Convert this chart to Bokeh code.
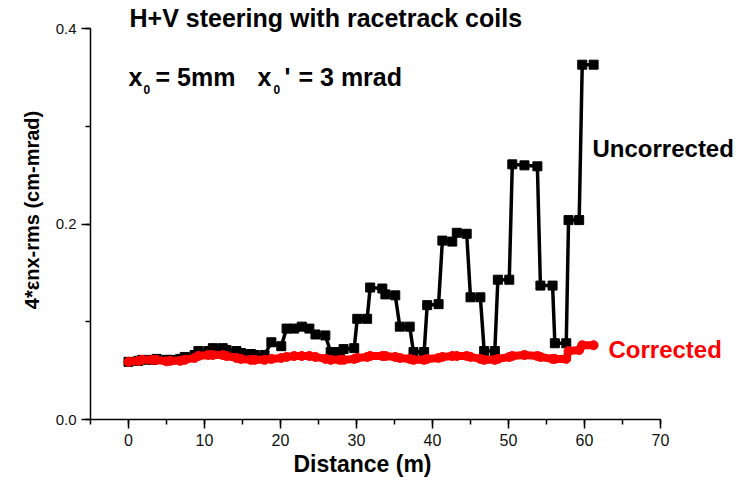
from bokeh.plotting import figure
from bokeh.models import Label, SingleIntervalTicker, PrintfTickFormatter, Range1d, Title
from bokeh.embed import file_html
from bokeh.resources import INLINE

# ---- data ----
distance = [0.0, 1.3, 1.8, 3.1, 3.7, 5.0, 5.5, 6.8, 7.4, 8.7,
            9.2, 10.5, 11.1, 12.4, 12.9, 14.2, 14.8, 16.1, 16.6, 17.9,
            18.8, 20.1, 20.8, 21.8, 22.8, 23.8, 24.6, 25.9, 26.6, 27.8,
            28.3, 29.7, 30.1, 31.4, 31.8, 33.4, 33.8, 35.1, 35.7, 37.0,
            37.5, 38.9, 39.3, 40.8, 41.3, 42.6, 43.2, 44.5, 45.0, 46.3,
            46.8, 48.2, 48.6, 50.1, 50.5, 52.1, 53.8, 54.2, 55.8, 56.1,
            57.6, 57.9, 59.3, 59.7, 61.2]

uncorrected = [0.059, 0.060, 0.061, 0.061, 0.062, 0.061, 0.061, 0.062, 0.064, 0.066,
               0.070, 0.070, 0.073, 0.073, 0.071, 0.070, 0.068, 0.067, 0.066, 0.066,
               0.079, 0.075, 0.093, 0.093, 0.095, 0.093, 0.087, 0.086, 0.069, 0.069,
               0.072, 0.073, 0.103, 0.103, 0.135, 0.134, 0.128, 0.127, 0.095, 0.095,
               0.069, 0.069, 0.117, 0.118, 0.183, 0.182, 0.191, 0.190, 0.125, 0.125,
               0.070, 0.070, 0.143, 0.143, 0.261, 0.260, 0.259, 0.137, 0.137, 0.078,
               0.078, 0.204, 0.204, 0.363, 0.363]

corrected = [0.059, 0.060, 0.061, 0.061, 0.061, 0.0595, 0.060, 0.060, 0.061, 0.063,
             0.065, 0.066, 0.066, 0.066, 0.065, 0.063, 0.062, 0.061, 0.061, 0.061,
             0.062, 0.063, 0.064, 0.065, 0.065, 0.065, 0.064, 0.062, 0.061, 0.061,
             0.061, 0.062, 0.063, 0.064, 0.065, 0.065, 0.065, 0.064, 0.063, 0.062,
             0.061, 0.061, 0.062, 0.063, 0.064, 0.065, 0.065, 0.065, 0.064, 0.062,
             0.061, 0.061, 0.062, 0.064, 0.065, 0.066, 0.065, 0.064, 0.062, 0.062,
             0.062, 0.070, 0.071, 0.076, 0.076]

title_text = "H+V steering with racetrack coils"
x_label = "Distance (m)"
y_label = "4*\u03b5nx-rms (cm-mrad)"

X_AXIS_BOUNDS = (-5, 70)
Y_AXIS_BOUNDS = (0, 0.4)

FONT = "Liberation Sans"

# pixel scale of the reference: x=0 at 128 px, 7.6 px per metre;
# y=0 at 419 px, 977.5 px per unit
def dx(px):
    return (px - 128) / 7.6

def dy(py):
    return (419 - py) / 977.5

# the frame reaches the right and top edges so that annotations are not clipped;
# the axes themselves stop at their bounds
p = figure(width=750, height=480,
           x_range=Range1d(-5, dx(750)), y_range=Range1d(0, dy(0)),
           output_backend="svg", toolbar_location=None,
           min_border_left=90, min_border_right=0,
           min_border_top=0, min_border_bottom=61)
p.grid.visible = False
p.outline_line_color = None
p.background_fill_color = "white"
p.border_fill_color = "white"

p.xaxis.ticker = SingleIntervalTicker(interval=10, num_minor_ticks=2)
p.yaxis.ticker = SingleIntervalTicker(interval=0.2, num_minor_ticks=2)
p.yaxis.formatter = PrintfTickFormatter(format="%.1f")
p.xaxis.bounds = X_AXIS_BOUNDS
p.yaxis.bounds = Y_AXIS_BOUNDS

for ax in (p.xaxis[0], p.yaxis[0]):
    ax.axis_line_width = 1.5
    ax.axis_line_color = "black"
    ax.major_tick_line_width = 1.5
    ax.minor_tick_line_width = 1.5
    ax.major_tick_line_color = "black"
    ax.minor_tick_line_color = "black"
    ax.major_tick_in = 0
    ax.major_tick_out = 9
    ax.minor_tick_in = 0
    ax.minor_tick_out = 5
    ax.major_label_text_font = FONT
    ax.major_label_text_color = "#111111"

p.xaxis.major_label_text_font_size = "16px"
p.yaxis.major_label_text_font_size = "15px"
p.xaxis.major_label_standoff = 5
p.yaxis.major_label_standoff = 5

# axis titles placed in the side panels so they can be offset like the reference
p.add_layout(Title(text=x_label, align="left", offset=203,
                   text_font=FONT, text_font_size="23px", text_font_style="bold",
                   text_color="black", standoff=0), "below")
p.add_layout(Title(text=y_label, align="center", offset=-18,
                   text_font=FONT, text_font_size="20px", text_font_style="bold",
                   text_color="black", standoff=20), "left")

# series
p.line(distance, uncorrected, line_color="black", line_width=3.5)
p.scatter(distance, uncorrected, marker="square", size=9,
          fill_color="black", line_color="black")
p.line(distance, corrected, line_color="red", line_width=8, line_join="round",
       line_cap="round")
p.scatter(distance, corrected, marker="circle", size=9,
          fill_color="red", line_color="red")

def add_label(text, px, py, size, color="black", style="bold"):
    # py is the wanted baseline; Bokeh places the text box a little lower
    shift = 0.38 * size
    p.add_layout(Label(x=dx(px), y=dy(py - shift), text=text,
                       text_font=FONT, text_font_size=f"{size}px",
                       text_font_style=style, text_color=color,
                       text_baseline="alphabetic", text_align="left"))

add_label(title_text, 129, 27, 25)
add_label("x", 128, 86, 25)
add_label("0", 143, 94, 12)
add_label("= 5mm", 155, 86, 25)
add_label("x", 257, 86, 25)
add_label("0", 273, 94, 12)
add_label("'", 284, 86, 25)
add_label("= 3 mrad", 298, 86, 25)
add_label("Uncorrected", 592, 157, 24)
add_label("Corrected", 608, 358, 24, color="red")

open("out.html", "w").write(file_html(p, INLINE))
